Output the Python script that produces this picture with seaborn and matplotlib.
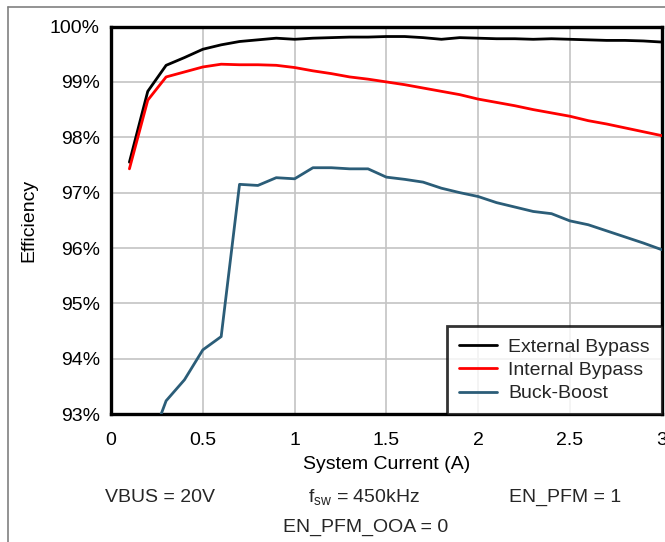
import numpy as np
import pandas as pd
import matplotlib
matplotlib.use("Agg")
import matplotlib.pyplot as plt
from matplotlib.lines import Line2D
import seaborn as sns

# System current (A)
current = [0.1, 0.2, 0.3, 0.4, 0.5, 0.6, 0.7, 0.8, 0.9, 1.0,
           1.1, 1.2, 1.3, 1.4, 1.5, 1.6, 1.7, 1.8, 1.9, 2.0,
           2.1, 2.2, 2.3, 2.4, 2.5, 2.6, 2.7, 2.8, 2.9, 3.0]

# Efficiency (%)
external_bypass = [97.55, 98.83, 99.30, 99.44, 99.59, 99.67, 99.73, 99.76, 99.79, 99.77,
                   99.79, 99.80, 99.81, 99.81, 99.82, 99.82, 99.80, 99.77, 99.80, 99.79,
                   99.78, 99.78, 99.77, 99.78, 99.77, 99.76, 99.75, 99.75, 99.74, 99.72]
internal_bypass = [97.43, 98.67, 99.09, 99.18, 99.27, 99.32, 99.31, 99.31, 99.30, 99.26,
                   99.20, 99.15, 99.09, 99.05, 99.00, 98.95, 98.89, 98.83, 98.77, 98.69,
                   98.63, 98.57, 98.50, 98.44, 98.38, 98.30, 98.24, 98.17, 98.10, 98.03]
buck_boost_x = [0.2, 0.3, 0.4, 0.5, 0.6, 0.7, 0.8, 0.9, 1.0,
                1.1, 1.2, 1.3, 1.4, 1.5, 1.6, 1.7, 1.8, 1.9, 2.0,
                2.1, 2.2, 2.3, 2.4, 2.5, 2.6, 2.7, 2.8, 2.9, 3.0]
buck_boost = [92.35, 93.24, 93.62, 94.16, 94.40, 97.15, 97.13, 97.27, 97.25,
              97.45, 97.45, 97.43, 97.43, 97.28, 97.24, 97.19, 97.08, 97.00, 96.93,
              96.82, 96.74, 96.66, 96.62, 96.49, 96.42, 96.31, 96.20, 96.09, 95.97]

series_names = ["External Bypass", "Internal Bypass", "Buck-Boost"]
series_colors = ["#000000", "#ff0000", "#2b5d78"]

x_ticks = [0, 0.5, 1, 1.5, 2, 2.5, 3]
x_tick_labels = ["0", "0.5", "1", "1.5", "2", "2.5", "3"]
y_ticks = [93, 94, 95, 96, 97, 98, 99, 100]
y_tick_labels = ["93%", "94%", "95%", "96%", "97%", "98%", "99%", "100%"]

df = pd.concat([
    pd.DataFrame({"current": current, "eff": external_bypass, "mode": series_names[0]}),
    pd.DataFrame({"current": current, "eff": internal_bypass, "mode": series_names[1]}),
    pd.DataFrame({"current": buck_boost_x, "eff": buck_boost, "mode": series_names[2]}),
], ignore_index=True)

sns.set_theme(style="white")
plt.rcParams["font.family"] = ["Liberation Sans", "DejaVu Sans"]
plt.rcParams["mathtext.fontset"] = "custom"
plt.rcParams["mathtext.rm"] = "Liberation Sans"
plt.rcParams["mathtext.it"] = "Liberation Sans"

FS = 14

fig = plt.figure(figsize=(6.65, 5.42), dpi=100)
ax = fig.add_axes([0.167, 0.236, 0.828, 0.715])

sns.lineplot(data=df, x="current", y="eff", hue="mode", hue_order=series_names,
             palette=dict(zip(series_names, series_colors)), linewidth=2.0,
             ax=ax, legend=False, zorder=3)

ax.set_xlim(0, 3)
ax.set_ylim(93, 100)
ax.set_xticks(x_ticks)
ax.set_xticklabels(x_tick_labels)
ax.set_yticks(y_ticks)
ax.set_yticklabels(y_tick_labels)
ax.tick_params(axis="both", labelsize=FS, colors="black", length=0)
ax.tick_params(axis="x", pad=13)
ax.tick_params(axis="y", pad=8)
ax.grid(True, color="#c4c4c4", linewidth=1.2, zorder=0)
for s in ax.spines.values():
    s.set_visible(True)
    s.set_color("black")
    s.set_linewidth(2.4)

ax.set_xlabel("System Current (A)", fontsize=FS, color="black", labelpad=5)
ax.set_ylabel("Efficiency", fontsize=FS, color="black", labelpad=9)

handles = [Line2D([0], [0], color=c, linewidth=2.0) for c in series_colors]
leg = ax.legend(handles, series_names, loc="lower right", fontsize=FS,
                frameon=True, fancybox=False, borderaxespad=0.0,
                handlelength=1.95, handletextpad=0.6, labelspacing=0.3,
                borderpad=0.6)
leg.get_frame().set_edgecolor("black")
leg.get_frame().set_linewidth(2.0)
leg.set_zorder(5)

# Test condition notes under the axis
fig.text(105 / 665, 1 - 497 / 542, "VBUS = 20V", fontsize=FS, ha="left", va="center")
fig.text(364 / 665, 1 - 497 / 542, r"f$_{\mathrm{sw}}$ = 450kHz", fontsize=FS, ha="center", va="center")
fig.text(565 / 665, 1 - 497 / 542, "EN_PFM = 1", fontsize=FS, ha="center", va="center")
fig.text(366 / 665, 1 - 527 / 542, "EN_PFM_OOA = 0", fontsize=FS, ha="center", va="center")

# Page frame lines
fig.add_artist(Line2D([8 / 665, 1], [1 - 7 / 542, 1 - 7 / 542], color="#808080", linewidth=1.2))
fig.add_artist(Line2D([8 / 665, 8 / 665], [0, 1 - 7 / 542], color="#808080", linewidth=1.2))

fig.savefig("out.png", dpi=100)
